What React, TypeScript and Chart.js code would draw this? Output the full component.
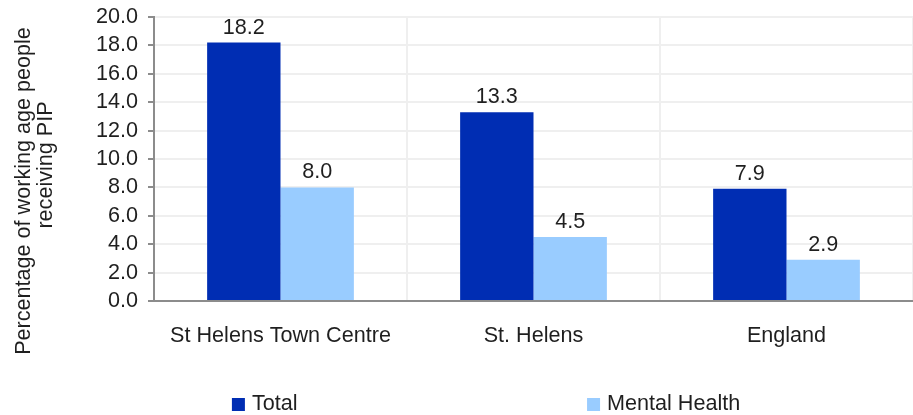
import { useEffect, useRef } from 'react';
import { Chart, registerables } from 'chart.js';

Chart.register(...registerables);

const categories = ['St Helens Town Centre', 'St. Helens', 'England'];
const totalValues = [18.2, 13.3, 7.9];
const mentalHealthValues = [8.0, 4.5, 2.9];
const seriesLabels = ['Total', 'Mental Health'];
const seriesColors = ['#002DB3', '#99CCFF'];
const yTitleLines = ['Percentage of working age people', 'receiving PIP'];
const yMax = 20;
const yStep = 2;

const FONT = '"Liberation Sans", Arial, sans-serif';
const FS = 21.6;
const TEXT = '#1f1f1f';
const AXIS = '#8c8c8c';
const GRID = '#efefef';

export default function App() {
  const ref = useRef<HTMLCanvasElement | null>(null);

  useEffect(() => {
    document.body.style.margin = '0';
    const canvas = ref.current;
    if (!canvas) return;

    const valueLabels = {
      id: 'valueLabels',
      afterDatasetsDraw(chart: any) {
        const ctx = chart.ctx;
        ctx.save();
        ctx.font = `${FS}px ${FONT}`;
        ctx.fillStyle = TEXT;
        ctx.textAlign = 'center';
        ctx.textBaseline = 'alphabetic';
        chart.data.datasets.forEach((ds: any, i: number) => {
          const meta = chart.getDatasetMeta(i);
          meta.data.forEach((el: any, j: number) => {
            ctx.fillText(Number(ds.data[j]).toFixed(1), el.x, el.y - 9);
          });
        });
        ctx.restore();
      },
    };

    const yTitle = {
      id: 'yTitle',
      afterDraw(chart: any) {
        const ctx = chart.ctx;
        const area = chart.chartArea;
        const mid = (area.top + area.bottom) / 2;
        ctx.save();
        ctx.font = `${FS}px ${FONT}`;
        ctx.fillStyle = TEXT;
        ctx.textAlign = 'center';
        ctx.textBaseline = 'alphabetic';
        const placements = [
          { x: 30, y: mid + 32 },
          { x: 52, y: mid + 6 },
        ];
        yTitleLines.forEach((line, i) => {
          ctx.save();
          ctx.translate(placements[i].x, placements[i].y);
          ctx.rotate(-Math.PI / 2);
          ctx.fillText(line, 0, 0);
          ctx.restore();
        });
        ctx.restore();
      },
    };

    const bottomLegend = {
      id: 'bottomLegend',
      afterDraw(chart: any) {
        const ctx = chart.ctx;
        const w = chart.width;
        const starts = [w * 0.254, w * 0.643];
        const y = 404;
        ctx.save();
        ctx.font = `${FS}px ${FONT}`;
        ctx.textAlign = 'left';
        ctx.textBaseline = 'middle';
        chart.data.datasets.forEach((ds: any, i: number) => {
          const x = starts[i];
          ctx.fillStyle = ds.backgroundColor;
          ctx.fillRect(x, y - 6, 13, 13);
          ctx.fillStyle = TEXT;
          ctx.fillText(ds.label, x + 20, y);
        });
        ctx.restore();
      },
    };

    const chart = new Chart(canvas, {
      type: 'bar',
      data: {
        labels: categories,
        datasets: [
          {
            label: seriesLabels[0],
            data: totalValues,
            backgroundColor: seriesColors[0],
            categoryPercentage: 0.58,
            barPercentage: 1.0,
          },
          {
            label: seriesLabels[1],
            data: mentalHealthValues,
            backgroundColor: seriesColors[1],
            categoryPercentage: 0.58,
            barPercentage: 1.0,
          },
        ],
      },
      options: {
        responsive: false,
        animation: false,
        layout: { padding: { top: 17, right: 0, bottom: 0, left: 0 } },
        plugins: {
          legend: { display: false },
          tooltip: { enabled: false },
        },
        scales: {
          x: {
            grid: {
              color: GRID,
              lineWidth: 2,
              drawTicks: false,
              offset: true,
            },
            border: { color: AXIS, width: 2 },
            ticks: {
              color: TEXT,
              font: { family: FONT, size: FS },
              padding: 22,
              maxRotation: 0,
            },
            afterFit(scale: any) {
              scale.height = 114;
            },
          },
          y: {
            min: 0,
            max: yMax,
            grid: {
              color: GRID,
              lineWidth: 2,
              tickColor: AXIS,
              tickLength: 6,
              tickWidth: 2,
            },
            border: { color: AXIS, width: 2 },
            ticks: {
              stepSize: yStep,
              autoSkip: false,
              color: TEXT,
              font: { family: FONT, size: FS, lineHeight: 1 },
              padding: 10,
              callback: (v: any) => Number(v).toFixed(1),
            },
            afterFit(scale: any) {
              scale.width = 154;
              scale.paddingTop = 0;
              scale.paddingBottom = 0;
            },
          },
        },
      },
      plugins: [valueLabels, yTitle, bottomLegend],
    });

    return () => chart.destroy();
  }, []);

  return (
    <div style={{ width: 913, height: 415 }}>
      <canvas ref={ref} width={913} height={415} style={{ display: 'block' }} />
    </div>
  );
}
